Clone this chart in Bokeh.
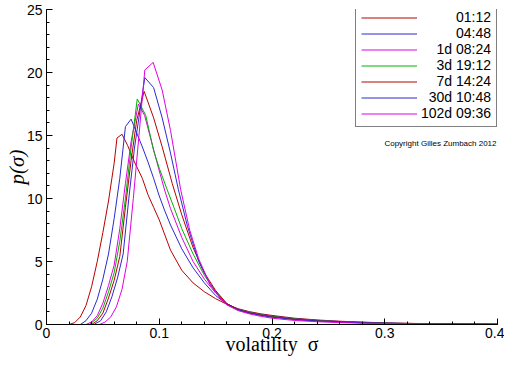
from bokeh.plotting import figure
from bokeh.models import Legend, LegendItem, SingleIntervalTicker, Label, Range1d
from bokeh.embed import file_html
from bokeh.resources import INLINE

# ---- data ----
series_labels = ["01:12", "04:48", "1d 08:24", "3d 19:12", "7d 14:24", "30d 10:48", "102d 09:36"]
# legend labels padded with figure spaces so the texts line up on the right
legend_labels = ["\u2007\u2007\u2007\u2007\u00a001:12", "\u2007\u2007\u2007\u2007\u00a004:48",
                 "\u2007\u20071d 08:24", "\u2007\u20073d 19:12", "\u2007\u20077d 14:24",
                 "\u200730d 10:48", "102d 09:36"]
colors = ["#b80000", "#2a2ad0", "#e000e0", "#00b000", "#b80000", "#2a2ad0", "#e000e0"]

tail_x = [0.17, 0.18, 0.19, 0.2, 0.22, 0.24, 0.26, 0.28, 0.3, 0.33, 0.36, 0.4]

x_0112 = [0.02, 0.025, 0.03, 0.035, 0.04, 0.045, 0.05, 0.055, 0.06, 0.0625, 0.067, 0.072, 0.078,
          0.085, 0.09, 0.095, 0.1, 0.105, 0.11, 0.12, 0.13, 0.14, 0.15, 0.16]
y_0112 = [0, 0.15, 0.6, 1.5, 3.0, 5.0, 7.3, 9.8, 12.8, 14.8, 15.1, 14.2, 12.9,
          11.6, 10.3, 9.3, 8.3, 7.1, 5.9, 4.3, 3.3, 2.6, 2.05, 1.6]
t_0112 = [1.25, 1.02, 0.85, 0.72, 0.50, 0.36, 0.26, 0.19, 0.13, 0.08, 0.05, 0.03]

x_0448 = [0.03, 0.035, 0.04, 0.045, 0.05, 0.055, 0.06, 0.065, 0.07, 0.075, 0.08, 0.085, 0.09,
          0.095, 0.1, 0.105, 0.11, 0.12, 0.13, 0.14, 0.15, 0.16]
y_0448 = [0, 0.3, 0.9, 2.0, 3.6, 5.6, 8.4, 11.6, 15.7, 16.3, 15.2, 14.1, 12.9,
          11.6, 10.2, 9.0, 7.9, 6.0, 4.5, 3.3, 2.3, 1.6]
t_0448 = [1.22, 0.98, 0.80, 0.66, 0.46, 0.33, 0.24, 0.17, 0.12, 0.07, 0.04, 0.02]

x_1d = [0.035, 0.04, 0.045, 0.05, 0.055, 0.06, 0.065, 0.07, 0.075, 0.0815, 0.087, 0.092, 0.097,
        0.1, 0.105, 0.11, 0.12, 0.13, 0.14, 0.15, 0.16]
y_1d = [0, 0.2, 0.7, 1.7, 3.1, 4.7, 7.6, 11.2, 14.5, 17.5, 16.6, 14.9, 13.2,
        12.2, 10.6, 9.2, 6.9, 5.0, 3.6, 2.5, 1.65]
t_1d = [1.2, 0.95, 0.77, 0.63, 0.43, 0.30, 0.21, 0.15, 0.10, 0.06, 0.03, 0.02]

x_3d = [0.038, 0.045, 0.05, 0.055, 0.06, 0.065, 0.07, 0.075, 0.0805, 0.088, 0.095, 0.1, 0.107,
        0.113, 0.12, 0.13, 0.14, 0.15, 0.16]
y_3d = [0, 0.5, 1.3, 2.6, 4.1, 6.6, 10.0, 14.0, 17.9, 16.6, 13.8, 12.4, 10.7,
        9.3, 7.6, 5.6, 3.9, 2.6, 1.65]
t_3d = [1.2, 0.96, 0.78, 0.64, 0.44, 0.31, 0.22, 0.15, 0.10, 0.06, 0.03, 0.02]

x_7d = [0.04, 0.045, 0.05, 0.055, 0.06, 0.065, 0.07, 0.075, 0.08, 0.0866, 0.095, 0.1026, 0.1115,
        0.12, 0.13, 0.14, 0.15, 0.16]
y_7d = [0, 0.3, 0.9, 2.1, 3.5, 5.4, 9.3, 13.0, 16.2, 18.5, 16.4, 14.1, 11.2,
        8.7, 6.1, 4.1, 2.7, 1.65]
t_7d = [1.18, 0.93, 0.75, 0.61, 0.41, 0.29, 0.20, 0.14, 0.09, 0.05, 0.03, 0.01]

x_30d = [0.042, 0.048, 0.053, 0.058, 0.063, 0.068, 0.073, 0.078, 0.0872, 0.095, 0.1026, 0.11,
         0.117, 0.125, 0.135, 0.145, 0.155, 0.16]
y_30d = [0, 0.3, 1.0, 2.2, 3.7, 5.6, 10.0, 14.0, 19.6, 18.8, 16.4, 13.6,
         10.7, 7.8, 5.0, 3.2, 2.0, 1.6]
t_30d = [1.15, 0.90, 0.72, 0.58, 0.39, 0.28, 0.20, 0.14, 0.09, 0.05, 0.03, 0.02]

x_102d = [0.047, 0.052, 0.057, 0.062, 0.067, 0.0716, 0.077, 0.082, 0.0872, 0.0946, 0.1026, 0.11,
          0.119, 0.127, 0.135, 0.145, 0.155, 0.16]
y_102d = [0, 0.2, 0.6, 1.4, 2.8, 5.0, 10.0, 15.0, 20.2, 20.8, 18.6, 15.4,
          10.7, 7.5, 5.2, 3.2, 2.0, 1.55]
t_102d = [1.10, 0.84, 0.65, 0.50, 0.32, 0.22, 0.15, 0.10, 0.07, 0.04, 0.02, 0.01]

xs = [x_0112, x_0448, x_1d, x_3d, x_7d, x_30d, x_102d]
ys = [y_0112, y_0448, y_1d, y_3d, y_7d, y_30d, y_102d]
tails = [t_0112, t_0448, t_1d, t_3d, t_7d, t_30d, t_102d]

x_ticks_interval = 0.1
y_ticks_interval = 5

# ---- figure ----
W, H = 504, 358
BL, BR, BT, BB = 46, 7, 9, 34
p = figure(width=W, height=H, output_backend="svg", toolbar_location=None,
           x_range=Range1d(0, 0.4), y_range=Range1d(0, 25),
           min_border_left=BL, min_border_right=BR, min_border_top=BT, min_border_bottom=BB)
p.outline_line_color = None
p.xgrid.visible = False
p.ygrid.visible = False
p.background_fill_color = "white"
p.border_fill_color = "white"

renderers = []
for x, y, t, c in zip(xs, ys, tails, colors):
    r = p.line(x + tail_x, y + t, line_color=c, line_width=1)
    renderers.append(r)

for ax in (p.xaxis[0], p.yaxis[0]):
    ax.axis_line_color = "black"
    ax.major_tick_line_color = "black"
    ax.minor_tick_line_color = "black"
    ax.major_tick_in = 6
    ax.major_tick_out = 0
    ax.minor_tick_in = 3
    ax.minor_tick_out = 0
    ax.major_label_text_font = "Liberation Sans"
    ax.major_label_text_font_size = "14px"
    ax.major_label_text_color = "black"
    ax.axis_label_text_font = "Liberation Serif"
    ax.axis_label_text_color = "black"

p.xaxis[0].ticker = SingleIntervalTicker(interval=x_ticks_interval, num_minor_ticks=5)
p.yaxis[0].ticker = SingleIntervalTicker(interval=y_ticks_interval, num_minor_ticks=5)
p.xaxis[0].major_label_overrides = {0: "0"}
p.xaxis[0].major_label_standoff = 3
p.yaxis[0].major_label_standoff = 4
p.xaxis[0].axis_label = "volatility\u00a0\u00a0\u03c3"
p.xaxis[0].axis_label_text_font_style = "normal"
p.xaxis[0].axis_label_text_font_size = "20px"
p.xaxis[0].axis_label_standoff = -8
p.yaxis[0].axis_label = "p(\u03c3)"
p.yaxis[0].axis_label_text_font_style = "italic"
p.yaxis[0].axis_label_text_font_size = "21px"
p.yaxis[0].axis_label_standoff = -5

frame_w = W - BL - BR
frame_h = H - BT - BB

legend = Legend(items=[LegendItem(label=l, renderers=[r]) for l, r in zip(legend_labels, renderers)],
                location=(309, frame_h - 118), orientation="vertical",
                glyph_width=56, glyph_height=15, label_height=15, label_width=69,
                label_standoff=4, padding=5, spacing=0, margin=0,
                border_line_color="black", border_line_width=1,
                background_fill_color="white", background_fill_alpha=1,
                label_text_font="Liberation Sans", label_text_font_size="14px",
                label_text_color="black")
p.add_layout(legend, "center")

p.add_layout(Label(x=frame_w - 1, y=frame_h - 134, x_units="screen", y_units="screen",
                   text="Copyright Gilles Zumbach 2012", text_align="right",
                   text_baseline="middle", text_font="Liberation Sans",
                   text_font_size="8px", text_color="black"))

open("out.html", "w").write(file_html(p, INLINE))
